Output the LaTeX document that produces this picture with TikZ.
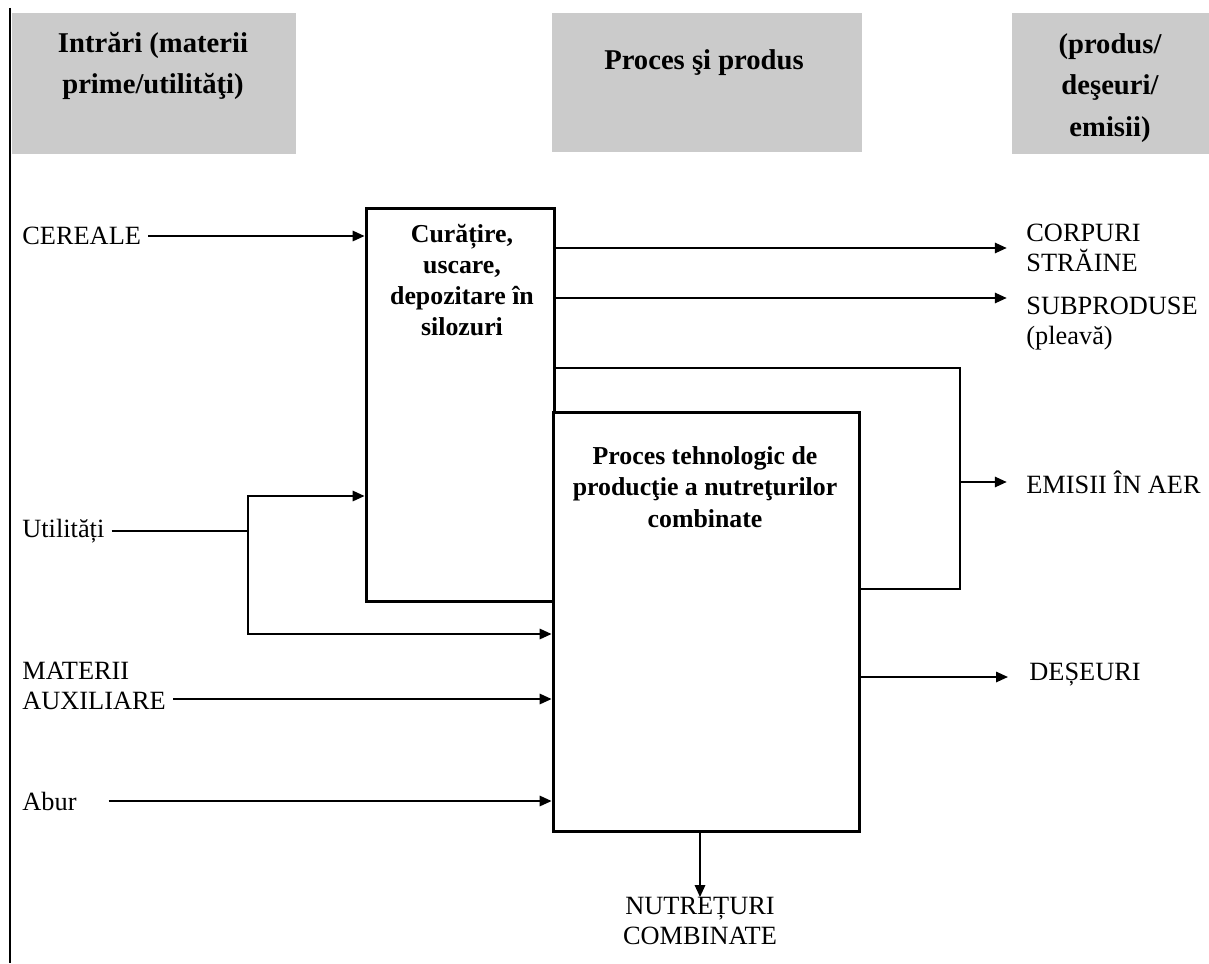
\documentclass[tikz,border=0pt]{standalone}
\usepackage{fontspec}
\setmainfont{Liberation Serif}
\usepackage{xcolor}
\usetikzlibrary{arrows.meta,positioning,calc}
\definecolor{headgray}{HTML}{CBCBCB}
\tikzset{
  head/.style={fill=headgray, inner sep=0pt},
  headtxt/.style={font=\bfseries\fontsize{16.3}{23.5}\selectfont, align=center},
  procbox/.style={draw, line width=1.7pt, fill=white, inner sep=0pt},
  boxtxt/.style={font=\bfseries\fontsize{14.7}{17.8}\selectfont, align=center},
  lbl/.style={font=\fontsize{15}{17}\selectfont, align=left, inner ysep=0pt, inner xsep=4pt},
  flow/.style={line width=0.85pt, -{Triangle[length=6.8pt,width=6pt]}},
  wire/.style={line width=0.85pt},
}

\begin{document}
\begin{tikzpicture}[x=0.02cm,y=-0.02cm]
	\useasboundingbox (0,0) rectangle (1209,963);
	\draw[line width=1.2pt] (10,8) -- (10,963);
	% column headers
	\node[head, minimum width=5.68cm, minimum height=2.82cm] (hin) at (154,83.5) {};
	\node[head, minimum width=6.2cm, minimum height=2.78cm] (hproc) at (707,82.5) {};
	\node[head, minimum width=3.94cm, minimum height=2.82cm] (hout) at (1110.5,83.5) {};
	\node[headtxt] (hintxt) at (153,66) {Intrări (materii\\prime/utilităţi)};
	\node[headtxt] (hproctxt) at (704,63) {Proces şi produs};
	\node[headtxt] (houttxt) at (1110,88) {(produs/\\deşeuri/\\emisii)};
	% process boxes
	\node[procbox, minimum width=3.78cm, minimum height=7.88cm] (cur) at (460.5,405) {};
	\node[procbox, minimum width=6.14cm, minimum height=8.4cm] (proc) at (706.5,622) {};
	\node[boxtxt] (curtxt) at (462,280) {Curățire,\\uscare,\\depozitare în\\silozuri};
	\node[boxtxt] (proctxt) at (705,487) {Proces tehnologic de\\producţie a nutreţurilor\\combinate};
	% inputs
	\node[lbl, anchor=west] (cer) at (15,236) {CEREALE};
	\node[lbl, anchor=west] (util) at (15,531) {Utilități};
	\node[lbl, anchor=west] (mat) at (15,686) {MATERII\\AUXILIARE};
	\node[lbl, anchor=west] (abur) at (15,801) {Abur};
	\coordinate (jn) at (248,531);
	\draw[flow] (cer.east) -- (cer.east -| cur.west);
	\draw[wire] (util.east) -- (jn);
	\draw[flow] (jn) |- (cur.west |- 0,496);
	\draw[flow] (jn) |- (proc.west |- 0,634);
	\draw[flow] (mat.east |- 0,699) -- (proc.west |- 0,699);
	\draw[flow] ([xshift=14pt]abur.east) -- (abur.east -| proc.west);
	% outputs
	\node[lbl, anchor=west] (corp) at (1019,248) {CORPURI\\STRĂINE};
	\node[lbl, anchor=west] (subp) at (1019,324) {SUBPRODUSE\\(pleavă)};
	\node[lbl, anchor=west] (emis) at (1019,482) {EMISII ÎN AER};
	\node[lbl, anchor=west] (des) at (1022,675) {DEȘEURI};
	\node[lbl, anchor=north, align=center] (nutr) at (700,897) {NUTREȚURI\\COMBINATE};
	\coordinate (ej) at (960,482);
	\draw[flow] (cur.east |- corp.west) -- ([xshift=-7pt]corp.west);
	\draw[flow] (cur.east |- 0,298) -- ([xshift=-7pt]corp.west |- 0,298);
	\draw[wire] (cur.east |- 0,368) -| (ej) |- (proc.east |- 0,589);
	\draw[flow] (ej) -- ([xshift=-7pt]emis.west);
	\draw[flow] (proc.east |- 0,677) -- ([xshift=-8pt]des.west |- 0,677);
	\draw[flow] (proc.south -| nutr.north) -- (nutr.north);
\end{tikzpicture}
\end{document}
